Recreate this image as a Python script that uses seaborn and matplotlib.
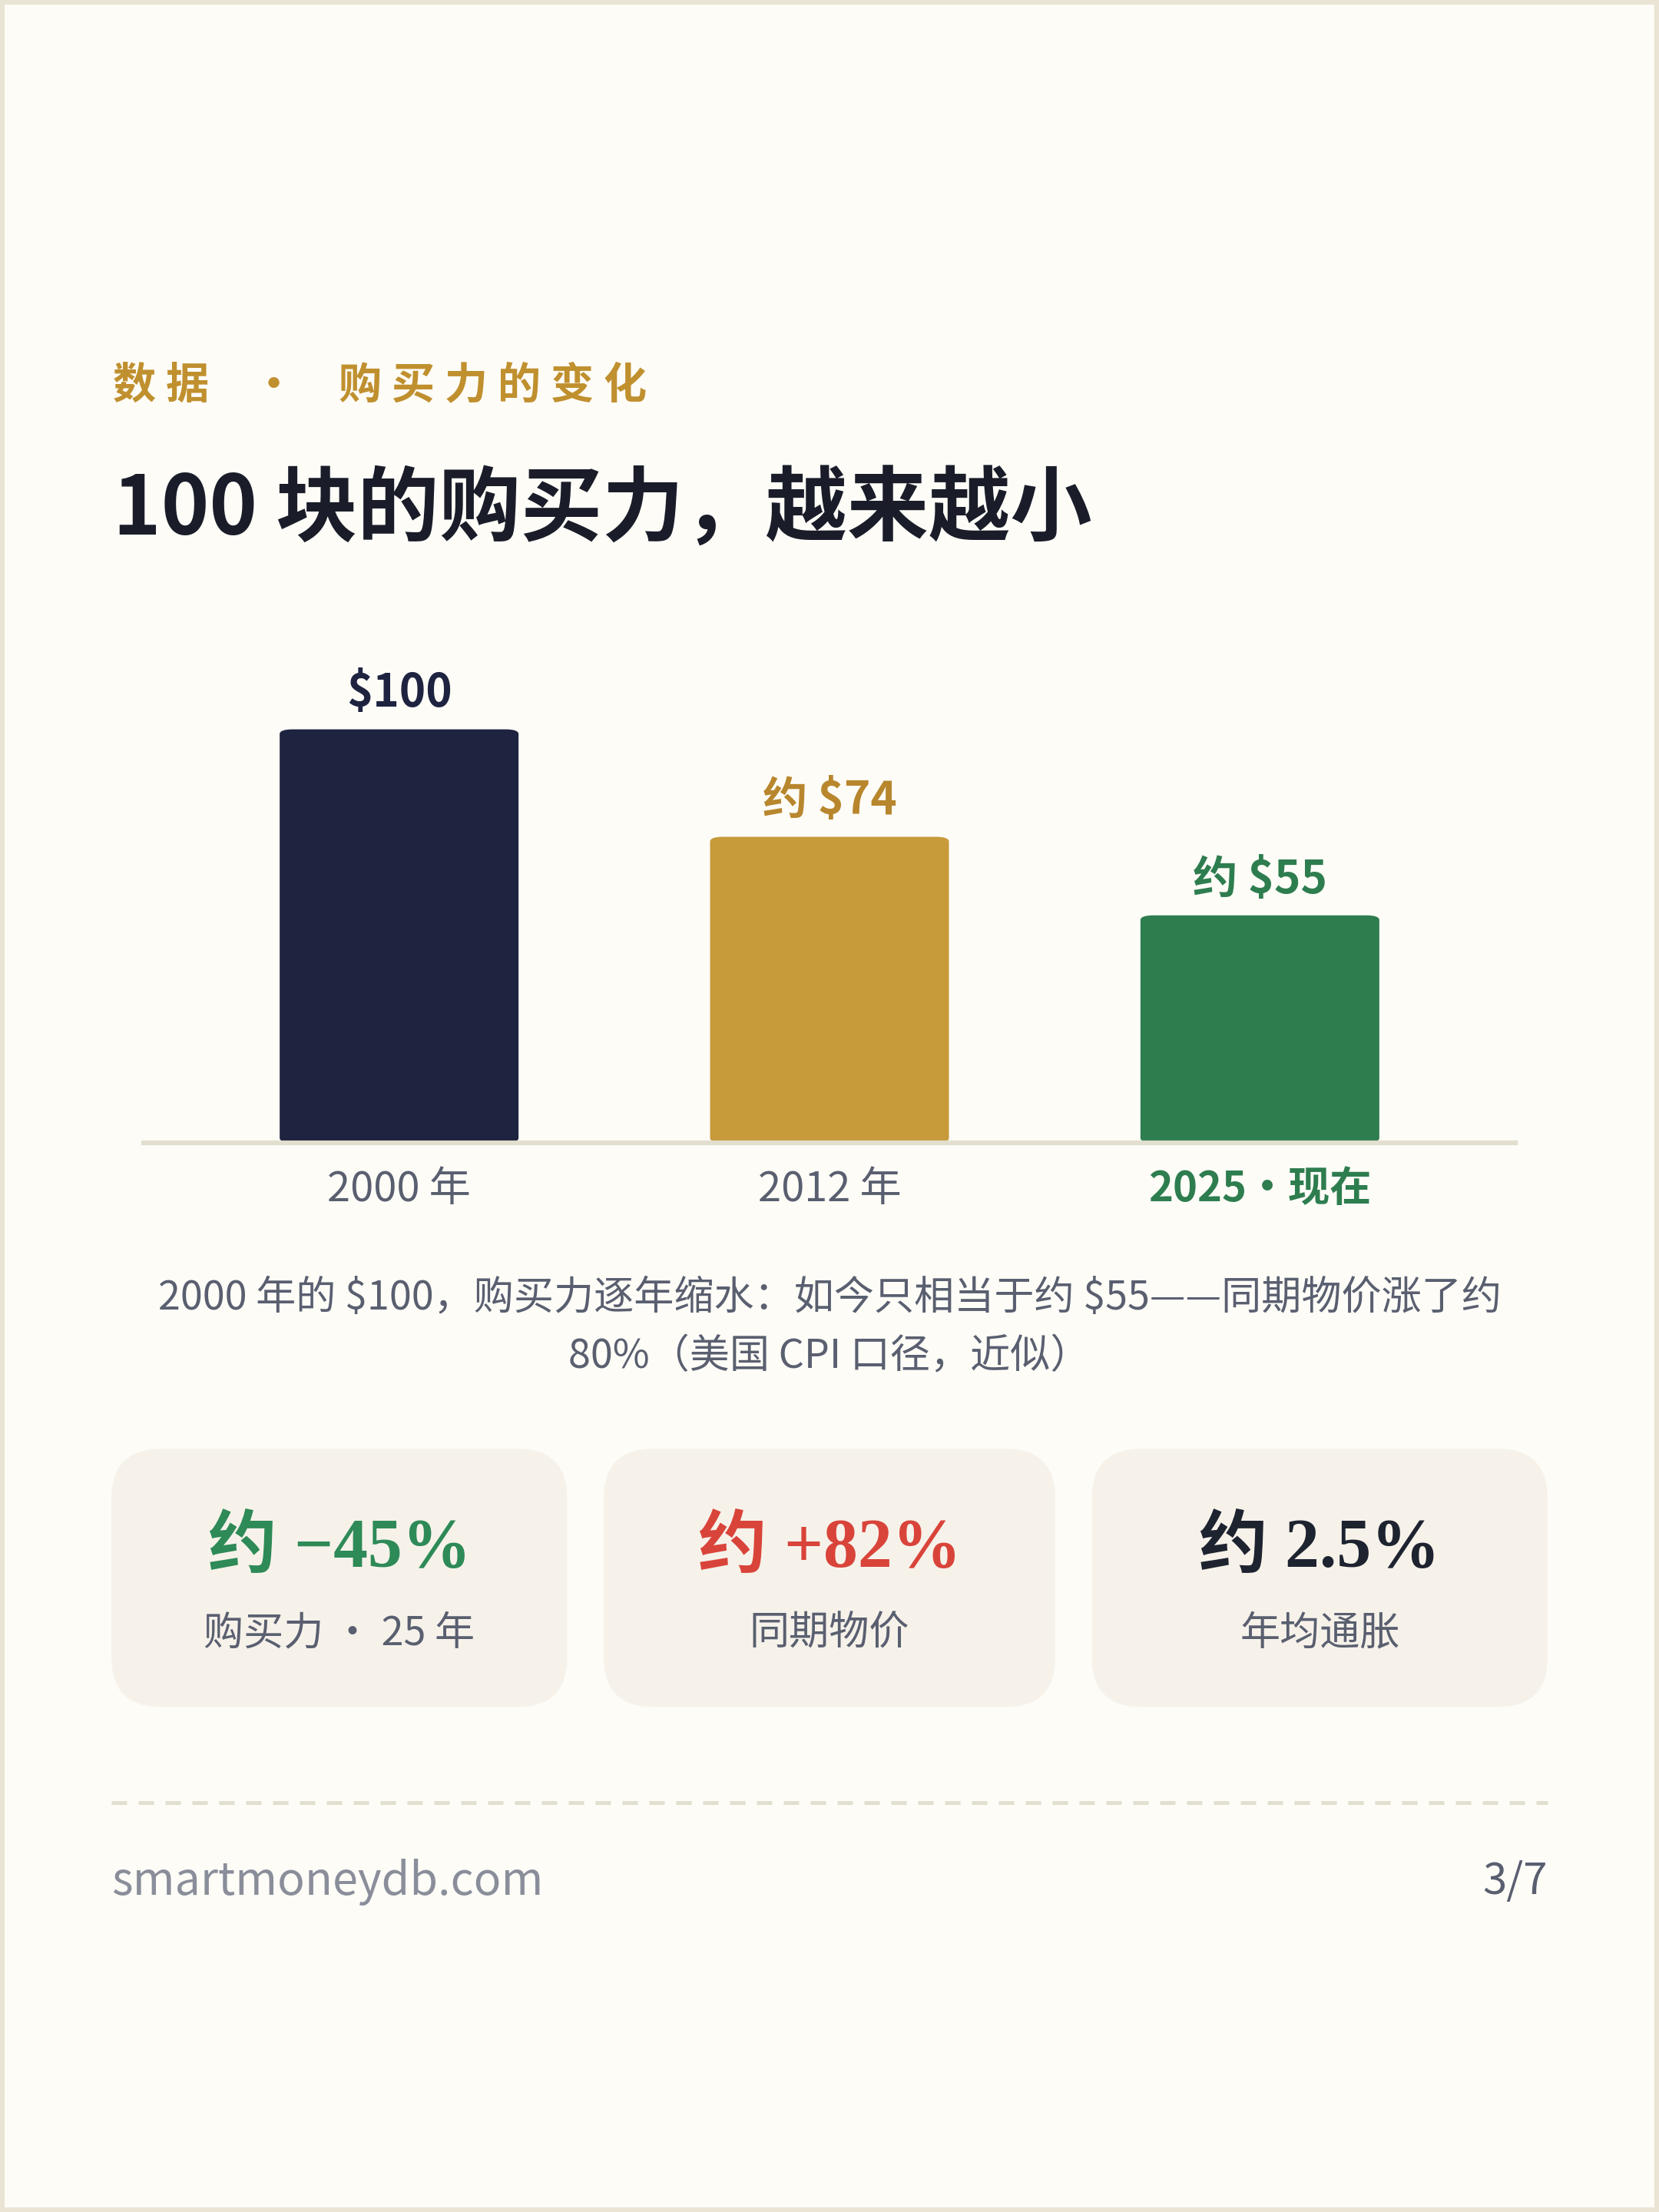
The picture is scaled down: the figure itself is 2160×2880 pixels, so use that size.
import matplotlib.pyplot as plt
import seaborn as sns
import pandas as pd
from matplotlib.patches import FancyBboxPatch, Rectangle
from matplotlib.lines import Line2D

# 数据
years = ["2000 年", "2012 年", "2025·现在"]
values = [100, 74, 55]
value_labels = ["\\$100", "约 \\$74", "约 \\$55"]
bar_colors = ["#1e2340", "#c79a3a", "#2e7d4f"]
label_colors = ["#1e2340", "#b8862d", "#2e7d4f"]

card_values = ["约 −45%", "约 +82%", "约 2.5%"]
card_labels = ["购买力 · 25 年", "同期物价", "年均通胀"]
card_colors = ["#2e8a57", "#d9443a", "#1e2330"]

CJK = ["Noto Sans CJK SC", "DejaVu Sans"]
SERIF = ["Liberation Serif", "Noto Sans CJK SC"]

sns.set_theme(style="white")
plt.rcParams["font.family"] = CJK

W, H = 1176, 1568
fig = plt.figure(figsize=(7.2, 9.6), dpi=300)
fig.patch.set_facecolor("#e9e4d3")
fig.add_artist(Rectangle((0.003, 0.002), 0.994, 0.996, transform=fig.transFigure,
                         facecolor="#fdfcf7", edgecolor="none", zorder=-10))

def fx(x): return x / W
def fy(y): return 1 - y / H

fig.text(fx(80), fy(273), "数 据\u2003·\u2003购 买 力 的 变 化",
         color="#c0902f", fontsize=13.5, weight="bold", va="center", ha="left")
fig.text(fx(80), fy(362), "100 块的购买力，越来越小", color="#1a1d29", fontsize=25.5,
         weight="bold", va="center", ha="left")

# 柱状图
ax = fig.add_axes([fx(102), fy(810), fx(1074) - fx(102), (810 - 460) / H])
ax.set_facecolor("none")
df = pd.DataFrame({"year": years, "value": values})
sns.barplot(data=df, x="year", y="value", hue="year", palette=bar_colors,
            width=0.555, legend=False, ax=ax, saturation=1)
ax.set_ylim(0, 100 * 350 / 293)
ax.set_xlim(-0.593, 2.593)
# 圆角
for p in list(ax.patches):
    x0, w, h = p.get_x(), p.get_width(), p.get_height()
    fc = p.get_facecolor()
    p.remove()
    ax.add_patch(FancyBboxPatch((x0, 0), w, h, boxstyle="round,pad=0,rounding_size=0.03",
                                mutation_aspect=38, facecolor=fc, edgecolor="none"))
for i, (v, t) in enumerate(zip(values, value_labels)):
    ax.text(i, v + 3, t, ha="center", va="bottom", fontsize=14, weight="bold",
            color=label_colors[i])
for s in ["top", "right", "left"]:
    ax.spines[s].set_visible(False)
ax.spines["bottom"].set_color("#e2dfcf")
ax.spines["bottom"].set_linewidth(1.5)
ax.set_yticks([])
ax.set_xlabel("")
ax.set_ylabel("")
ax.tick_params(axis="x", length=0, pad=8, labelsize=13, labelcolor="#5a5f70")
for i, lab in enumerate(ax.get_xticklabels()):
    if i == 2:
        lab.set_color("#2e7d4f")
        lab.set_fontweight("bold")

fig.text(0.5, fy(920), "2000 年的 \\$100，购买力逐年缩水：如今只相当于约 \\$55——同期物价涨了约",
         ha="center", va="center", fontsize=12.5, color="#5a5f70")
fig.text(0.5, fy(962), "80%（美国 CPI 口径，近似）", ha="center", va="center",
         fontsize=12.5, color="#5a5f70")

# 卡片
cards = [(79, 402), (428, 748), (774, 1097)]
for (x0, x1), v, l, c in zip(cards, card_values, card_labels, card_colors):
    fig.add_artist(FancyBboxPatch((fx(x0), fy(1210)), fx(x1 - x0), (1210 - 1027) / H,
                                  boxstyle="round,pad=0,rounding_size=0.03",
                                  mutation_aspect=W / H,
                                  transform=fig.transFigure, facecolor="#f6f2ea",
                                  edgecolor="none", zorder=-5))
    cx = fx((x0 + x1) / 2)
    fig.text(cx, fy(1098), v, ha="center", va="center", fontsize=21.5, weight="bold",
             color=c, family=SERIF)
    fig.text(cx, fy(1158), l, ha="center", va="center", fontsize=12.5, color="#5a5f70")

fig.add_artist(Line2D([fx(79), fx(1097)], [fy(1278), fy(1278)], transform=fig.transFigure,
                      color="#e2dfcf", linestyle=(0, (4, 3)), linewidth=1.2))
fig.text(fx(79), fy(1334), "smartmoneydb.com",
         ha="left", va="center", fontsize=14.2, color="#8a8e9a")
fig.text(fx(1097), fy(1334), "3/7", ha="right", va="center", fontsize=13.5, color="#5a5f70")

fig.savefig("out.png", dpi=300, facecolor=fig.get_facecolor())
